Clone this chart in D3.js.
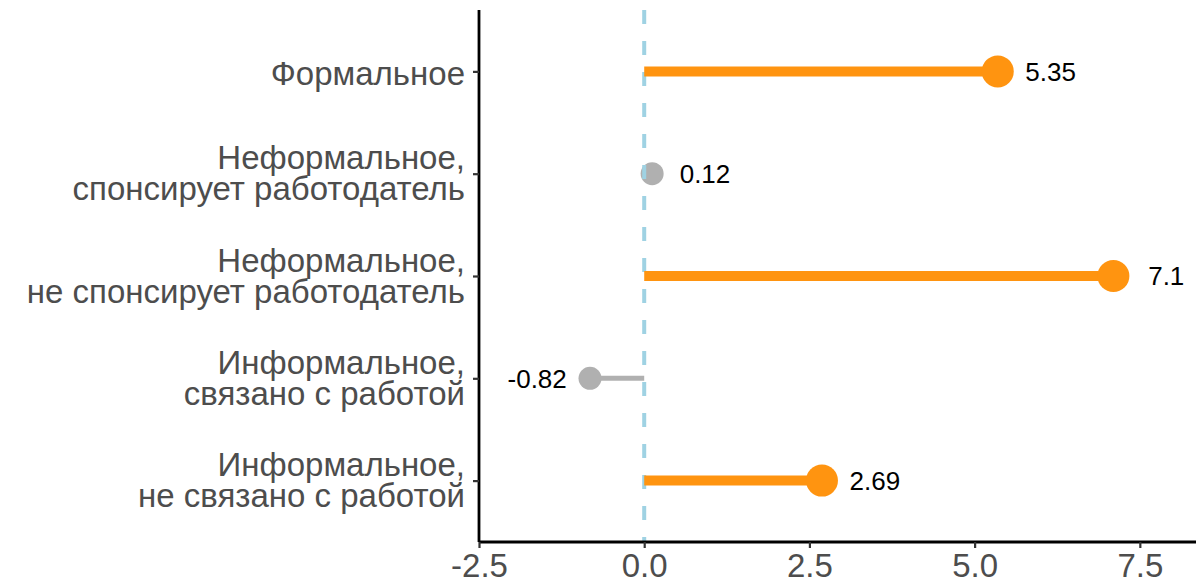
<!DOCTYPE html>
<html><head><meta charset="utf-8">
<script src="https://cdn.jsdelivr.net/npm/d3@7"></script>
<style>body{margin:0;background:#fff;}svg{display:block;font-family:"Liberation Sans",Arial,sans-serif;}</style>
</head><body><svg id="c" width="1196" height="580"></svg>
<script>
const categories = [
  ["Формальное"],
  ["Неформальное,", "спонсирует работодатель"],
  ["Неформальное,", "не спонсирует работодатель"],
  ["Информальное,", "связано с работой"],
  ["Информальное,", "не связано с работой"]
];
const values = [5.35, 0.12, 7.1, -0.82, 2.69];
const labels = ["5.35", "0.12", "7.1", "-0.82", "2.69"];
const significant = [true, false, true, false, true];
const xTicks = [-2.5, 0, 2.5, 5, 7.5];
const xTickLabels = ["-2.5", "0.0", "2.5", "5.0", "7.5"];

const svg = d3.select("#c");
const mLeft = 479, mRight = 1196, mTop = 10, mBottom = 542;
const x = d3.scaleLinear().domain([-2.5, 8.35]).range([mLeft, mRight]);
const y = d3.scalePoint().domain(d3.range(categories.length)).range([mTop, mBottom]).padding(0.6);
const data = values.map((v, i) => ({i, v, lab: labels[i], sig: significant[i]}));
const ORANGE = "#ff9410", GREY = "#b0b0b0";

function drawLayer(sel) {
  sel.forEach(d => {
    svg.append("line").attr("x1", x(0)).attr("x2", x(d.v)).attr("y1", y(d.i)).attr("y2", y(d.i))
      .attr("stroke", d.sig ? ORANGE : GREY).attr("stroke-width", d.sig ? 10 : 5);
    svg.append("circle").attr("cx", x(d.v)).attr("cy", y(d.i)).attr("r", d.sig ? 16 : 11.5)
      .attr("fill", d.sig ? ORANGE : GREY);
  });
}
drawLayer(data.filter(d => !d.sig));
svg.append("line").attr("x1", x(0)).attr("x2", x(0)).attr("y1", mTop).attr("y2", mBottom)
  .attr("stroke", "#9fd2e3").attr("stroke-width", 4).attr("stroke-dasharray", "14,17");
drawLayer(data.filter(d => d.sig));

const labFs = 26;
data.forEach(d => {
  svg.append("text").attr("x", x(d.v + (d.v >= 0 ? 0.8 : -0.8))).attr("y", y(d.i) + 0.358 * labFs)
    .attr("text-anchor", "middle")
    .attr("font-size", labFs).attr("fill", "#000").text(d.lab);
});

// x axis
const xAxis = d3.axisBottom(x).tickValues(xTicks).tickFormat((t, i) => xTickLabels[i]).tickSize(6).tickPadding(4);
const gx = svg.append("g").attr("transform", `translate(0,${mBottom})`).call(xAxis);
gx.select(".domain").attr("stroke", "#000").attr("stroke-width", 2.8).attr("d", `M${mLeft},0H${mRight}`);
gx.selectAll(".tick line").attr("stroke", "#333").attr("stroke-width", 2.2);
gx.selectAll(".tick text").attr("font-size", 33).attr("fill", "#4d4d4d")
  .attr("font-family", "Liberation Sans, Arial, sans-serif").attr("dy", null).attr("y", 35);

// y axis
const yAxis = d3.axisLeft(y).tickFormat("").tickSize(6);
const gy = svg.append("g").attr("transform", `translate(${mLeft},0)`).call(yAxis);
gy.select(".domain").attr("stroke", "#000").attr("stroke-width", 2.8).attr("d", `M0,${mTop}V${mBottom}`);
gy.selectAll(".tick line").attr("stroke", "#333").attr("stroke-width", 2.2);
categories.forEach((lines, i) => {
  const t = svg.append("text").attr("text-anchor", "end").attr("font-size", 33).attr("fill", "#4d4d4d");
  const n = lines.length;
  const base = n === 1 ? [13.5] : [-4.5, 26.5];
  lines.forEach((s, k) => {
    t.append("tspan").attr("x", mLeft - 14).attr("y", y(i) + base[k]).text(s);
  });
});
</script></body></html>
